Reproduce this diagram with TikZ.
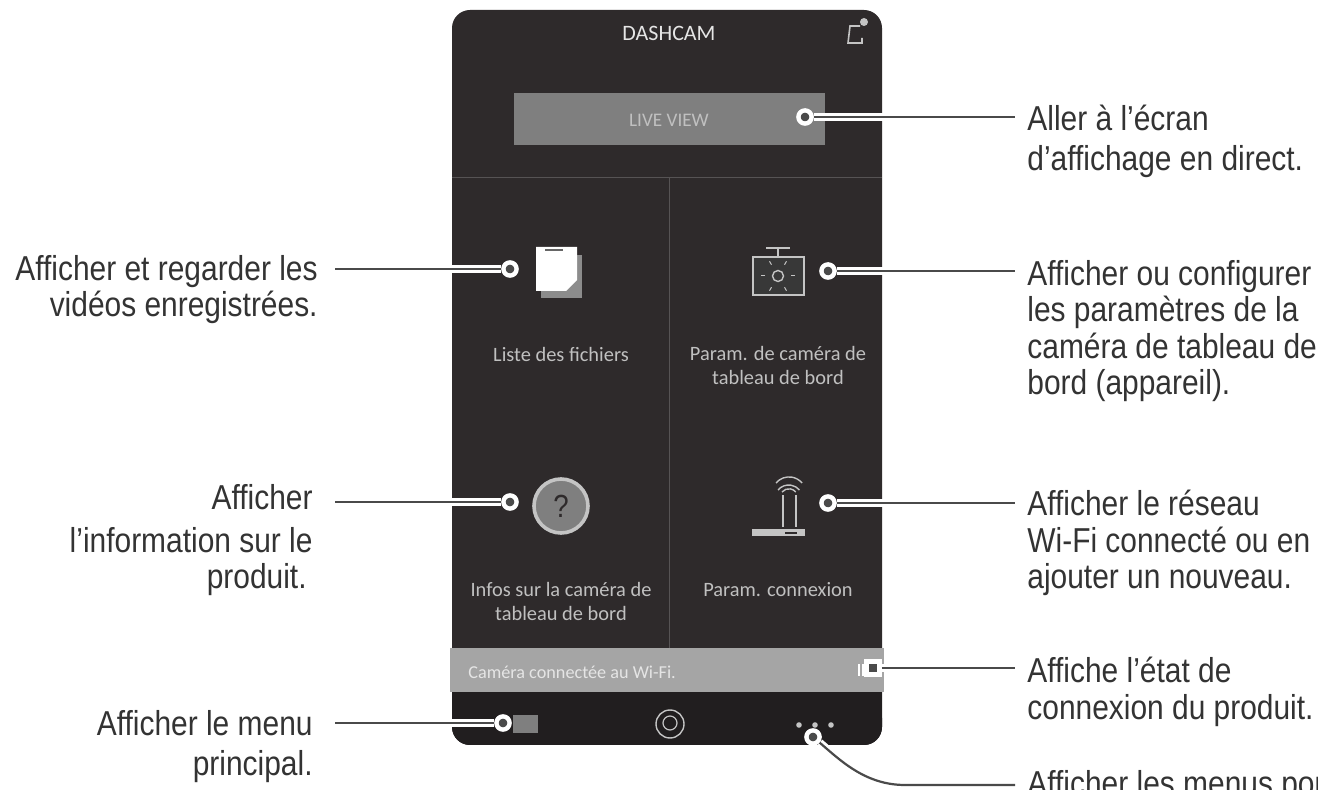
\documentclass[tikz,border=0pt]{standalone}
\usepackage{fontspec}
\setmainfont[FakeStretch=0.865]{Liberation Sans}
\newfontfamily\uifont{Carlito}
\usetikzlibrary{positioning}
\definecolor{phoneDark}{HTML}{2E2A2B}
\definecolor{barDark}{HTML}{211E1F}
\definecolor{barGray}{HTML}{A5A5A5}
\definecolor{btnGray}{HTML}{7F7F7F}
\definecolor{sepGray}{HTML}{565354}
\definecolor{lineGray}{HTML}{4A4A4A}
\definecolor{iconGray}{HTML}{C4C4C4}
\definecolor{uiText}{HTML}{C0C0C0}

\begin{document}
\begin{tikzpicture}[x=0.5pt,y=-0.5pt]

\tikzstyle{lblR} = [anchor=north west, inner sep=0pt, align=left, font=\fontsize{17.3}{18.2}\selectfont, text=black!80]
\tikzstyle{lblL} = [anchor=north east, inner sep=0pt, align=right, font=\fontsize{17.3}{18.2}\selectfont, text=black!80]
\tikzstyle{ui} = [inner sep=0pt, align=center, font=\uifont\fontsize{10.2}{12}\selectfont, text=uiText]
\tikzstyle{dot} = [circle, draw=white, fill=lineGray, line width=2.2pt, minimum size=6.6pt, inner sep=0pt]
\tikzstyle{conn} = [draw=lineGray, line width=1.1pt, preaction={draw=white, line width=4pt}]
\tikzstyle{icon} = [draw=iconGray, line width=0.8pt]

    \useasboundingbox (0,0) rectangle (1318,790);
    \clip (0,0) rectangle (1318,790);

    % phone body
    \fill [phoneDark, rounded corners=9pt] (452,10) rectangle (882,745);
    \fill [barDark, rounded corners=9pt] (452,700) rectangle (882,745);
    \fill [barDark] (452,692) rectangle (882,720);
    \fill [barGray] (450,648) rectangle (884,692);
    \draw [sepGray, line width=0.5pt] (452,178) -- (882,178);
    \draw [sepGray, line width=0.5pt] (669,178) -- (669,648);
    \node [rectangle, fill=btnGray, minimum width=155.5pt, minimum height=26pt, inner sep=0pt] (btnLive) at (669.5,119) {};

    % phone texts
    \node [ui, font=\uifont\fontsize{11}{12}\selectfont, text=white!90!black] (txtTitle) at (669,33) {DASHCAM};
    \node [ui, font=\uifont\fontsize{9.6}{12}\selectfont] (txtLive) at (669,120) {LIVE VIEW};
    \node [ui] (txtFiles) at (561,354) {Liste des fichiers};
    \node [ui] (txtCam) at (778,365) {Param. de caméra de\\tableau de bord};
    \node [ui] (txtInfo) at (561,601) {Infos sur la caméra de\\tableau de bord};
    \node [ui] (txtConn) at (778,590) {Param. connexion};
    \node [ui, anchor=west, font=\uifont\fontsize{9.1}{12}\selectfont, text=white!90!black] (txtState) at (468,672) {Caméra connectée au Wi-Fi.};

    % files icon
    \fill [black!45] (541,255) rectangle (582,298);
    \fill [white] (536,247) -- (577,247) -- (577,280) -- (566,291) -- (536,291) -- cycle;
    \draw [black!60, line width=0.8pt] (545,250) -- (563,250);

    % camera icon
    \draw [icon, line width=1.3pt, fill=black!78] (753,257) rectangle (804,295);
    \draw [icon, line width=1.3pt] (766,248) -- (790,248) (778,248) -- (778,257);
    \node [circle, draw=iconGray, line width=0.7pt, minimum size=5.5pt, inner sep=0pt] (icoSun) at (778,276) {};
    \foreach \aa in {0,60,...,300}
        \draw [iconGray, line width=0.5pt] (778,276) ++(\aa:13) -- ++(\aa:4);

    % help icon
    \node [circle, draw=iconGray, line width=1.8pt, fill=btnGray, minimum size=27pt, inner sep=0pt, font=\fontsize{16}{16}\selectfont, text=phoneDark] (icoHelp) at (561,506) {?};

    % router icon
    \fill [iconGray] (752,529) rectangle (805,536);
    \fill [phoneDark] (785,532) rectangle (797,534);
    \draw [icon] (783,527) -- (783,495) (796,527) -- (796,495);
    \draw [icon, line width=0.7pt] (778,490) arc (220:320:14);
    \draw [icon, line width=0.7pt] (776,483) arc (220:320:17);
    \draw [icon, line width=0.7pt] (782,492) arc (220:320:9);

    % top corner icon
    \draw [iconGray, line width=0.8pt] (862,38) -- (862,43) -- (848,43) -- (850,26) -- (860,26);
    \node [circle, fill=iconGray, minimum size=4pt, inner sep=0pt] (icoBell) at (864,22) {};

    % bottom bar icons
    \fill [btnGray] (513,715) rectangle (538,733);
    \node [circle, draw=iconGray, line width=0.7pt, minimum size=14pt, inner sep=0pt] (icoNet) at (670,724) {};
    \node [circle, draw=iconGray, line width=0.6pt, minimum size=7pt, inner sep=0pt] (icoNetIn) at (670,723) {};
    \foreach \xx in {799,815,831}
        \fill [iconGray] (\xx,725) circle (1.4pt);

    % status icon
    \fill [white] (858,664) rectangle (860,676);
    \fill [white] (862,664) rectangle (864,676);

    % connector points
    \node [dot] (dLive) at (805,117) {};
    \node [dot] (dFiles) at (510,269) {};
    \node [dot] (dCam) at (828,271) {};
    \node [dot] (dHelp) at (510,502) {};
    \node [dot] (dNet) at (828,503) {};
    \node [dot, rectangle] (dState) at (873,668) {};
    \node [dot] (dMenu) at (503,723) {};
    \node [dot] (dMore) at (813,737) {};

    \coordinate (eLive) at (1015,117);
    \coordinate (eFiles) at (335,269);
    \coordinate (eCam) at (1015,271);
    \coordinate (eHelp) at (335,502);
    \coordinate (eNet) at (1015,503);
    \coordinate (eState) at (1015,668);
    \coordinate (eMenu) at (335,723);
    \coordinate (eMore) at (1015,785);

    \path [conn] (dLive) -- (eLive);
    \path [conn] (dFiles) -- (eFiles);
    \path [conn] (dCam) -- (eCam);
    \path [conn] (dHelp) -- (eHelp);
    \path [conn] (dNet) -- (eNet);
    \path [conn] (dState) -- (eState);
    \path [conn] (dMenu) -- (eMenu);
    \path [conn] (dMore) .. controls (840,760) and (865,785) .. (905,785) -- (eMore);

    % labels
    \path (eLive) ++(12,-12) node [lblR] (lLive) {Aller à l’écran\\[1.8pt]d’affichage en direct.};
    \path (eCam) ++(12,-11) node [lblR] (lCam) {Afficher ou configurer\\les paramètres de la\\caméra de tableau de\\bord (appareil).};
    \path (eNet) ++(12,-13) node [lblR] (lNet) {Afficher le réseau\\Wi-Fi connecté ou en\\ajouter un nouveau.};
    \path (eState) ++(12,-11) node [lblR] (lState) {Affiche l’état de\\connexion du produit.};
    \path (eMore) ++(12,-15) node [lblR] (lMore) {Afficher les menus pou};
    \path (eFiles) ++(-17,-14) node [lblL] (lFiles) {Afficher et regarder les\\vidéos enregistrées.};
    \path (eHelp) ++(-22,-18) node [lblL] (lHelp) {Afficher\\[3.2pt]l’information sur le\\produit.\hspace*{3pt}};
    \path (eMenu) ++(-22,-13) node [lblL] (lMenu) {Afficher le menu\\[1.8pt]principal.};

\end{tikzpicture}
\end{document}
